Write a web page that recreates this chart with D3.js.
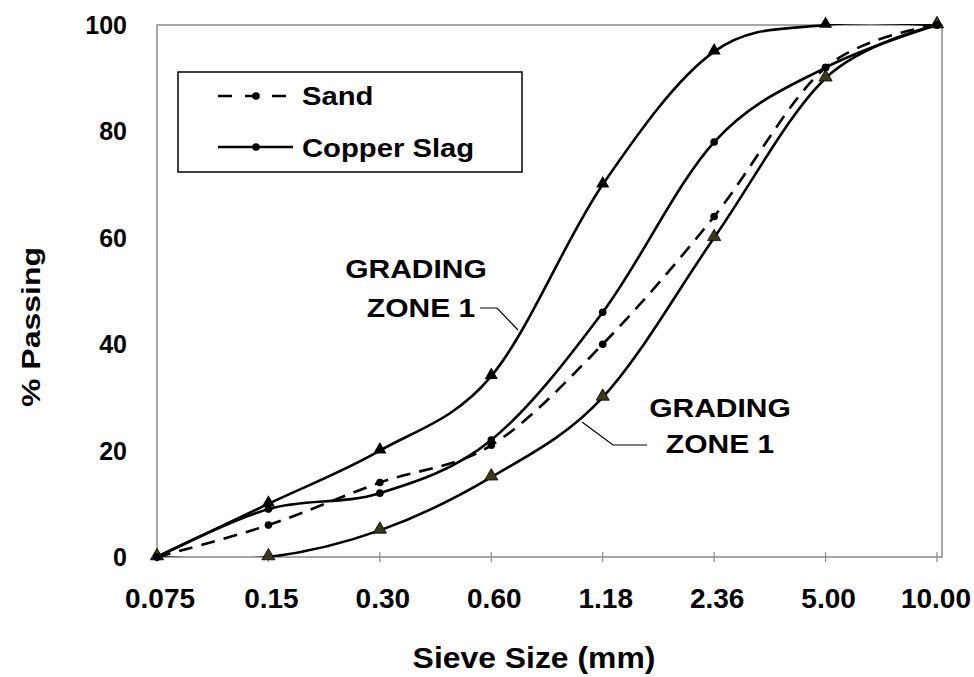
<!DOCTYPE html>
<html><head><meta charset="utf-8">
<script src="https://cdn.jsdelivr.net/npm/d3@7"></script>
<style>html,body{margin:0;padding:0;background:#fff;}svg{display:block;}text{font-family:"Liberation Sans",Arial,sans-serif;font-weight:bold;fill:#000;}</style>
</head><body>
<svg id="c" width="974" height="677"></svg>
<script>
const categories = ["0.075","0.15","0.30","0.60","1.18","2.36","5.00","10.00"];
const upperLimit = [0, 10, 20, 34, 70, 95, 100, 100];
const lowerLimit = [0, 0, 5, 15, 30, 60, 90, 100];
const sand = [0, 6, 14, 21, 40, 64, 92, 100];
const copperSlag = [0, 9, 12, 22, 46, 78, 92, 100];
const yTicks = [0, 20, 40, 60, 80, 100];

const W = 974, H = 677;
const m = {l:157, r:942, t:25, b:557};
const svg = d3.select("#c");
const x = d3.scalePoint().domain(categories).range([m.l, m.r - 5]).padding(0);
const y = d3.scaleLinear().domain([0, 100]).range([m.b, m.t]);

svg.append("defs").append("clipPath").attr("id","pc")
  .append("rect").attr("x", m.l).attr("y", m.t - 1).attr("width", m.r - m.l).attr("height", m.b - m.t + 1);

// plot border
svg.append("rect").attr("x", m.l).attr("y", m.t).attr("width", m.r - m.l).attr("height", m.b - m.t)
  .attr("fill","none").attr("stroke","#8a8a8a").attr("stroke-width",1.5);

// x ticks
svg.append("g").selectAll("line").data(categories).join("line")
  .attr("x1", d => x(d)).attr("x2", d => x(d)).attr("y1", m.b - 5).attr("y2", m.b + 5)
  .attr("stroke","#8a8a8a").attr("stroke-width",1.2);

// y tick labels
svg.append("g").selectAll("text").data(yTicks).join("text")
  .attr("x", 127).attr("y", d => y(d)).attr("dy","0.36em").attr("text-anchor","end")
  .style("font-size","25px").text(d => d);

// x tick labels
svg.append("g").selectAll("text").data(categories).join("text")
  .style("font-size","28px").attr("text-anchor","middle").text(d => d)
  .each(function(d){
    const w = this.getComputedTextLength();
    const cx = Math.min(x(d) + 3, W - 3 - w/2);
    d3.select(this).attr("x", cx).attr("y", 608);
  });

function stretchText(g, str, cx, cy, size, sx, rot) {
  return g.append("text")
    .attr("transform", `translate(${cx},${cy}) rotate(${rot||0}) scale(${sx},1)`)
    .attr("text-anchor","middle").style("font-size", size + "px").text(str);
}

// axis titles
stretchText(svg, "Sieve Size (mm)", 534, 668, 29, 1.1, 0);
stretchText(svg, "% Passing", 40, 327, 25, 1.28, -90);

// lines
const line = d3.line().x((d,i) => x(categories[i])).y(d => y(d)).curve(d3.curveCatmullRom.alpha(0));
const plot = svg.append("g").attr("clip-path","url(#pc)");
const series = [
  {vals: upperLimit, dash: null},
  {vals: lowerLimit, dash: null},
  {vals: copperSlag, dash: null},
  {vals: sand, dash: "14,9"}
];
series.forEach(s => {
  plot.append("path").attr("d", line(s.vals)).attr("fill","none")
    .attr("stroke","#000").attr("stroke-width",2.6)
    .attr("stroke-dasharray", s.dash);
});

// markers
const tri = d3.symbol().type(d3.symbolTriangle).size(75);
svg.append("g").selectAll("path").data(upperLimit).join("path")
  .attr("d", tri).attr("transform", (d,i) => `translate(${x(categories[i])},${y(d) - 1})`)
  .attr("fill","#000");
svg.append("g").selectAll("path").data(lowerLimit).join("path")
  .attr("d", tri).attr("transform", (d,i) => `translate(${x(categories[i])},${y(d) - 1})`)
  .attr("fill","#3a3a14").attr("stroke","#000").attr("stroke-width",0.8);
svg.append("g").selectAll("circle").data(copperSlag).join("circle")
  .attr("cx", (d,i) => x(categories[i])).attr("cy", d => y(d)).attr("r", 3.8).attr("fill","#000");
svg.append("g").selectAll("circle").data(sand).join("circle")
  .attr("cx", (d,i) => x(categories[i])).attr("cy", d => y(d)).attr("r", 3.8).attr("fill","#000");

// legend
const lg = svg.append("g");
lg.append("rect").attr("x",178).attr("y",72).attr("width",344).attr("height",100)
  .attr("fill","#fff").attr("stroke","#000").attr("stroke-width",1.5);
lg.append("line").attr("x1",218).attr("x2",293).attr("y1",96).attr("y2",96)
  .attr("stroke","#000").attr("stroke-width",2.6).attr("stroke-dasharray","14,13");
lg.append("circle").attr("cx",256).attr("cy",96).attr("r",3.8).attr("fill","#000");
lg.append("line").attr("x1",218).attr("x2",293).attr("y1",147).attr("y2",147)
  .attr("stroke","#000").attr("stroke-width",2.6);
lg.append("circle").attr("cx",256).attr("cy",147).attr("r",3.8).attr("fill","#000");
lg.append("text").attr("transform","translate(302,105) scale(1.17,1)").style("font-size","25px").text("Sand");
lg.append("text").attr("transform","translate(302,157) scale(1.17,1)").style("font-size","25px").text("Copper Slag");

// annotations
const an = svg.append("g");
stretchText(an, "GRADING", 416, 278, 25, 1.2, 0);
stretchText(an, "ZONE 1", 421, 317, 25, 1.2, 0);
stretchText(an, "GRADING", 720, 417, 25, 1.2, 0);
stretchText(an, "ZONE 1", 720, 453, 25, 1.2, 0);
an.append("polyline").attr("points","480,308 497,308 518,330").attr("fill","none").attr("stroke","#000").attr("stroke-width",1.2);
an.append("polyline").attr("points","582,422 613,445 647,445").attr("fill","none").attr("stroke","#000").attr("stroke-width",1.2);
</script>
</body></html>
